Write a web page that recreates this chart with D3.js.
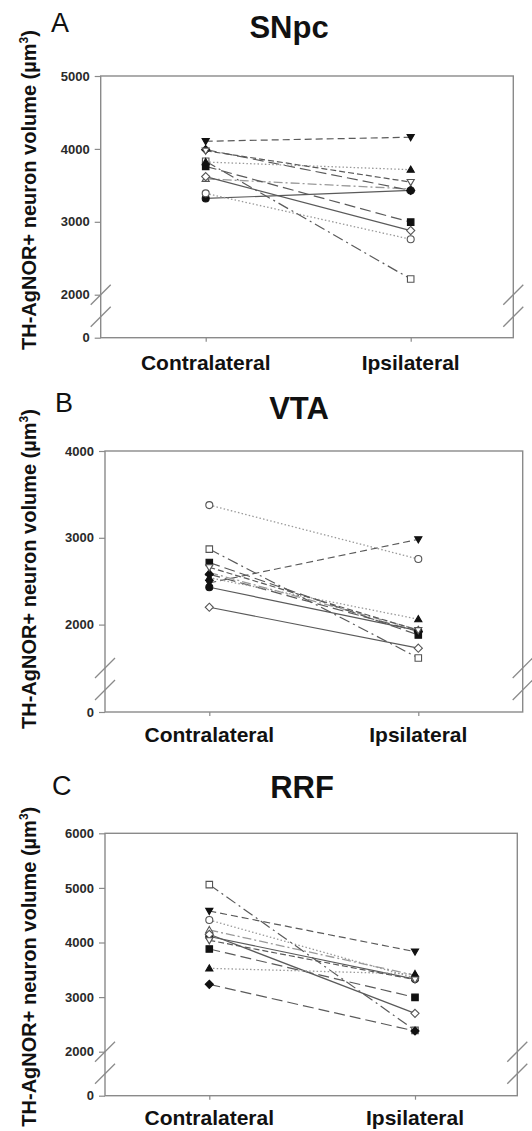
<!DOCTYPE html>
<html>
<head>
<meta charset="utf-8">
<script src="https://cdn.jsdelivr.net/npm/d3@7"></script>
<style>
  html, body { margin: 0; padding: 0; background: #fff; }
  svg { display: block; font-family: "Liberation Sans", Arial, sans-serif; }
</style>
</head>
<body>
<svg id="chart" width="532" height="1131"></svg>
<script>
// Categories on the x axis
const sides = ["Contralateral", "Ipsilateral"];

// One marker / line style per animal
const seriesNames = ["s1", "s2", "s3", "s4", "s5", "s6", "s7", "s8", "s9", "s10"];

// Neuron volume (µm³), [contralateral, ipsilateral] per animal
const snpcValues = [
  [3320, 3430], [3390, 2760], [4105, 4160], [3590, 3450], [3760, 2995],
  [3830, 2215], [3990, 3430], [3620, 2880], [3820, 3715], [3975, 3545]
];
const vtaValues = [
  [2430, 1930], [3377, 2755], [2480, 2982], [2600, 1940], [2716, 1880],
  [2870, 1616], [2580, 1920], [2200, 1728], [2540, 2062], [2660, 1935]
];
const rrfValues = [
  [4110, 3330], [4412, 3350], [4577, 3832], [4229, 3400], [3881, 2995],
  [5060, 2390], [3234, 2379], [4150, 2702], [3527, 3423], [4040, 3320]
];

// Tick labels per panel
const snpcTicks = [0, 2000, 3000, 4000, 5000];
const vtaTicks = [0, 2000, 3000, 4000];
const rrfTicks = [0, 2000, 3000, 4000, 5000, 6000];

// Marker shape, fill and line pattern for each animal
const styles = {
  s1:  { shape: "circle",   filled: true,  dash: null },
  s2:  { shape: "circle",   filled: false, dash: "1.5,2.2", light: true },
  s3:  { shape: "triDown",  filled: true,  dash: "7,4" },
  s4:  { shape: "triUp",    filled: false, dash: "9,3,2,3", light: true },
  s5:  { shape: "square",   filled: true,  dash: "11,5" },
  s6:  { shape: "square",   filled: false, dash: "11,4,2,4" },
  s7:  { shape: "diamond",  filled: true,  dash: "11,5" },
  s8:  { shape: "diamond",  filled: false, dash: null },
  s9:  { shape: "triUp",    filled: true,  dash: "1.5,2.2", light: true },
  s10: { shape: "triDown",  filled: false, dash: "6,3" }
};

const panels = [
  { letter: "A", title: "SNpc", values: snpcValues, ticks: snpcTicks, max: 5000, brk: 2000,
    left: 100.7, right: 513.3, top: 76, yBrk: 294.7, bottom: 337.7, catL: 205.7, catR: 410.7,
    titleX: 289, titleY: 37.5, letterX: 51, letterY: 31.5, yLabelY: 190, xLabelY: 370 },
  { letter: "B", title: "VTA", values: vtaValues, ticks: vtaTicks, max: 4000, brk: 1500,
    left: 105, right: 522.7, top: 451, yBrk: 668, bottom: 712, catL: 209.3, catR: 418.3,
    titleX: 299, titleY: 419, letterX: 55, letterY: 412, yLabelY: 569, xLabelY: 742 },
  { letter: "C", title: "RRF", values: rrfValues, ticks: rrfTicks, max: 6000, brk: 2000,
    left: 105, right: 517.3, top: 833.3, yBrk: 1051.7, bottom: 1095.7, catL: 209.3, catR: 415,
    titleX: 302, titleY: 798.3, letterX: 52, letterY: 795, yLabelY: 966.7, xLabelY: 1125 }
];

const svg = d3.select("#chart");
const axisColor = "#8a8a8a";

function markerPath(shape, s) {
  const h = s / 2;
  switch (shape) {
    case "circle":
      return d3.symbol(d3.symbolCircle, Math.PI * h * h)();
    case "square":
      return `M${-h},${-h}H${h}V${h}H${-h}Z`;
    case "diamond":
      return `M0,${-h * 1.25}L${h * 1.25},0L0,${h * 1.25}L${-h * 1.25},0Z`;
    case "triUp":
      return `M0,${-h * 1.1}L${h * 1.1},${h * 0.8}L${-h * 1.1},${h * 0.8}Z`;
    case "triDown":
      return `M0,${h * 1.1}L${h * 1.1},${-h * 0.8}L${-h * 1.1},${-h * 0.8}Z`;
  }
}

panels.forEach(p => {
  const g = svg.append("g");

  // Broken y scale: 0 sits alone below the break, the upper segment is linear
  const y = d3.scaleLinear()
    .domain([0, p.brk, p.max])
    .range([p.bottom, p.yBrk, p.top]);
  const x = d3.scalePoint().domain(sides).range([p.catL, p.catR]);

  // Frame
  g.append("rect")
    .attr("x", p.left).attr("y", p.top)
    .attr("width", p.right - p.left).attr("height", p.bottom - p.top)
    .attr("fill", "none").attr("stroke", axisColor).attr("stroke-width", 1.4);

  // Y axis ticks and labels
  const yAxis = d3.axisLeft(y).tickValues(p.ticks).tickSize(6).tickPadding(5)
    .tickFormat(d3.format("d"));
  const ya = g.append("g").attr("transform", `translate(${p.left},0)`).call(yAxis);
  ya.select(".domain").remove();
  ya.selectAll(".tick line").attr("stroke", axisColor).attr("stroke-width", 1.2);
  ya.selectAll(".tick text")
    .attr("font-size", 13).attr("font-weight", "bold").attr("fill", "#2a2a2a");

  // X axis ticks
  const xAxis = d3.axisBottom(x).tickSize(4).tickFormat("");
  const xa = g.append("g").attr("transform", `translate(0,${p.bottom})`).call(xAxis);
  xa.select(".domain").remove();
  xa.selectAll(".tick line").attr("stroke", axisColor).attr("stroke-width", 1.2);

  // Category labels
  g.selectAll("text.cat").data(sides).join("text")
    .attr("class", "cat")
    .attr("x", d => x(d)).attr("y", p.xLabelY)
    .attr("text-anchor", "middle")
    .attr("font-size", 21).attr("font-weight", "bold").attr("fill", "#111")
    .text(d => d);

  // Axis break marks on both vertical edges
  [p.left, p.right].forEach(ex => {
    [p.yBrk, p.yBrk + 22].forEach(cy => {
      g.append("line")
        .attr("x1", ex - 10).attr("y1", cy + 10)
        .attr("x2", ex + 10).attr("y2", cy - 10)
        .attr("stroke", axisColor).attr("stroke-width", 1.3);
    });
  });

  // Paired lines
  const line = d3.line().x(d => x(d.side)).y(d => y(d.v));
  const rows = p.values.map((vals, i) => ({
    name: seriesNames[i],
    pts: vals.map((v, j) => ({ side: sides[j], v }))
  }));

  g.selectAll("path.pair").data(rows).join("path")
    .attr("class", "pair")
    .attr("d", d => line(d.pts))
    .attr("fill", "none")
    .attr("stroke", d => styles[d.name].light ? "#9a9a9a" : "#5a5a5a")
    .attr("stroke-width", d => styles[d.name].light ? 1.3 : 1.2)
    .attr("stroke-dasharray", d => styles[d.name].dash);

  // Markers
  rows.forEach(r => {
    const st = styles[r.name];
    g.selectAll(null).data(r.pts).join("path")
      .attr("transform", d => `translate(${x(d.side)},${y(d.v)})`)
      .attr("d", markerPath(st.shape, st.shape === "circle" ? 7 : 6.5))
      .attr("fill", st.filled ? "#111" : "#fff")
      .attr("stroke", st.filled ? "#111" : "#555")
      .attr("stroke-width", 1.1);
  });

  // Panel title and letter
  g.append("text")
    .attr("x", p.titleX).attr("y", p.titleY)
    .attr("text-anchor", "middle")
    .attr("font-size", 31).attr("font-weight", "bold").attr("fill", "#111")
    .text(p.title);
  g.append("text")
    .attr("x", p.letterX).attr("y", p.letterY)
    .attr("font-size", 27).attr("fill", "#111")
    .text(p.letter);

  // Y axis title
  const yt = g.append("text")
    .attr("transform", `translate(36,${p.yLabelY}) rotate(-90)`)
    .attr("text-anchor", "middle")
    .attr("font-size", 20).attr("font-weight", "bold").attr("fill", "#111");
  yt.append("tspan").text("TH-AgNOR+ neuron volume (µm");
  yt.append("tspan").attr("font-size", 12).attr("dy", -8).text("3");
  yt.append("tspan").attr("dy", 8).text(")");
});
</script>
</body>
</html>
